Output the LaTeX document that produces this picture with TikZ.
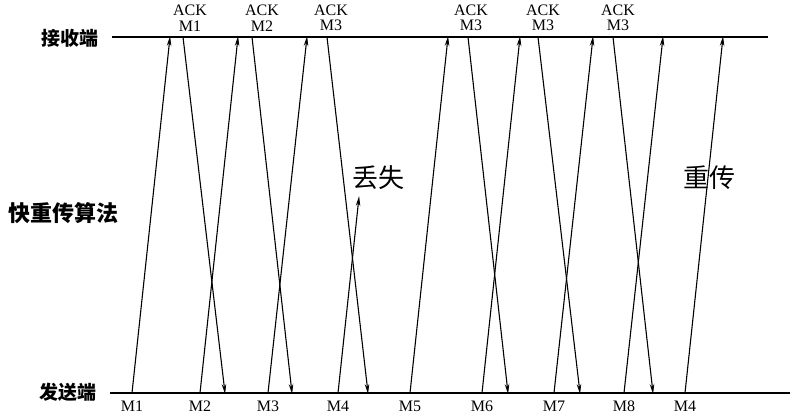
\documentclass[tikz,border=0pt]{standalone}
\usepackage{fontspec}
\setmainfont{Liberation Serif}
\newfontfamily\cjk{Noto Sans CJK SC}
\usetikzlibrary{positioning,arrows.meta}

\begin{document}
\begin{tikzpicture}[x=1pt,y=-1pt,
  every node/.style={inner sep=0pt},
  msg/.style={-{Stealth[length=10pt,width=4.5pt]},line width=1.1pt,shorten >=-1pt},
  axis/.style={line width=1.4pt},
  mlabel/.style={font=\fontsize{16}{15.5}\selectfont,align=center},
  side/.style={font=\cjk\bfseries\fontsize{19}{19}\selectfont},
  note/.style={font=\cjk\fontsize{26}{26}\selectfont}
]
\useasboundingbox (0,0) rectangle (795,415);
% time lines
\coordinate (rL) at (112,37);
\coordinate (rR) at (768,37);
\coordinate (sL) at (110,393);
\coordinate (sR) at (790,393);
\draw[axis] (rL) -- (rR);
\draw[axis] (sL) -- (sR);
\node[side] (recv) at (70,38) {接收端};
\node[side] (send) at (68,392) {发送端};
\node[side,font=\cjk\bfseries\fontsize{22}{22}\selectfont] (algo) at (64,213) {快重传算法};
% segments sent / received
\foreach \n/\sx/\rx/\t in {1/132/170/M1,2/200/238/M2,3/268/307/M3,4/338/357/M4,
    5/410/448/M5,6/482/520/M6,7/554/593/M7,8/624/663/M8,9/685/723/M4} {
  \coordinate (s\n) at (\sx,393);
  \coordinate (r\n) at (\rx,37);
  \node[mlabel] (m\n) at (\sx,406) {\t};
}
\coordinate (lost) at (359,197);
% acks sent / received
\foreach \n/\ax/\bx/\lx/\t in {1/183/225/190/M1,2/252/292/262/M2,3/327/368/331/M3,
    5/468/508/471/M3,6/538/580/543/M3,7/613/653/618/M3} {
  \coordinate (a\n) at (\ax,37);
  \coordinate (b\n) at (\bx,393);
  \node[mlabel] (ack\n) at (\lx,18) {ACK\\\t};
}
\draw[msg] (s1) -- (r1);
\draw[msg] (s2) -- (r2);
\draw[msg] (s3) -- (r3);
\draw[msg] (s4) -- (lost);
\draw[msg] (s5) -- (r5);
\draw[msg] (s6) -- (r6);
\draw[msg] (s7) -- (r7);
\draw[msg] (s8) -- (r8);
\draw[msg] (s9) -- (r9);
\draw[msg] (a1) -- (b1);
\draw[msg] (a2) -- (b2);
\draw[msg] (a3) -- (b3);
\draw[msg] (a5) -- (b5);
\draw[msg] (a6) -- (b6);
\draw[msg] (a7) -- (b7);
\node[note] (lostlbl) at (378,178) {丢失};
\node[note] (retx) at (709,178) {重传};
\end{tikzpicture}
\end{document}
